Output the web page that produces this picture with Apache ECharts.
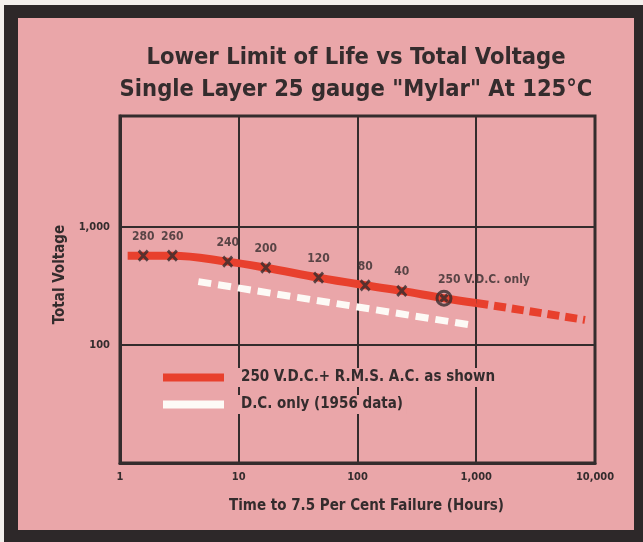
<!DOCTYPE html>
<html>
<head>
<meta charset="utf-8">
<script src="https://cdn.jsdelivr.net/npm/echarts@6/dist/echarts.min.js"></script>
<style>
html,body{margin:0;padding:0;background:#f3efec}
#chart{width:643px;height:542px}
</style>
</head>
<body>
<div id="chart"></div>
<script>
// red curve, 250 V.D.C. + R.M.S. A.C.
const acHours = [1.16, 1.57, 2.76, 8.07, 16.9, 47, 116, 236, 535, 1000]
const acVolts = [570, 570, 570, 508, 451, 372, 320, 287, 249, 227]
// red dashed extension
const extHours = [1000, 8240]
const extVolts = [227, 163]
// white dashed, D.C. only (1956 data)
const dcHours = [4.57, 886]
const dcVolts = [344, 148]
// test points (X marks) and their R.M.S. A.C. labels
const markHours = [1.57, 2.76, 8.07, 16.9, 47, 116, 236, 535]
const markVolts = [570, 570, 508, 451, 372, 320, 287, 249]
const markLabels = ['280', '260', '240', '200', '120', '80', '40', '250 V.D.C. only']

const font = "'Liberation Sans Narrow', 'DejaVu Sans Condensed', 'Liberation Sans', sans-serif"
const ink = '#342c2d'
const pink = '#eaa6a9'
const red = '#e8402d'

const pair = (xs, ys) => xs.map((x, i) => [x, ys[i]])

const chart = echarts.init(document.getElementById('chart'))

const option = {
    animation: false,
    graphic: [
        {type: 'rect', z: -20, shape: {x: 4, y: 5, width: 643, height: 542}, style: {fill: '#2d2829'}},
        {type: 'rect', z: -19, shape: {x: 18, y: 18, width: 616, height: 512}, style: {fill: pink}}
    ],
    title: {
        text: 'Lower Limit of Life vs Total Voltage\nSingle Layer 25 gauge "Mylar" At 125°C',
        left: 351,
        top: 37,
        textAlign: 'center',
        textStyle: {fontFamily: font, fontSize: 23.5, fontWeight: 'bold', color: ink, lineHeight: 32}
    },
    grid: {
        left: 120, right: 48, top: 116, bottom: 79,
        show: true, borderColor: ink, borderWidth: 3
    },
    legend: {
        orient: 'vertical',
        left: 163,
        top: 368,
        padding: 0,
        itemGap: 8,
        itemWidth: 61,
        itemHeight: 8,
        icon: 'rect',
        itemStyle: {borderWidth: 0},
        data: ['250 V.D.C.+ R.M.S. A.C. as shown', 'D.C. only (1956 data)'],
        textStyle: {
            fontFamily: font, fontSize: 15, fontWeight: 'bold', color: ink,
            backgroundColor: pink, padding: [2, 4, 2, 12]
        }
    },
    xAxis: {
        type: 'log',
        logBase: 10,
        min: 1,
        max: 10000,
        name: 'Time to 7.5 Per Cent Failure (Hours)',
        nameLocation: 'middle',
        nameGap: 36,
        nameTextStyle: {fontFamily: font, fontSize: 15, fontWeight: 'bold', color: ink, padding: [0, 0, 0, 18]},
        axisLine: {lineStyle: {color: ink, width: 3}},
        axisTick: {show: false},
        axisLabel: {
            fontFamily: font, fontSize: 11, fontWeight: 'bold', color: ink, margin: 9,
            formatter: v => Math.round(v).toLocaleString('en-US')
        },
        splitLine: {lineStyle: {color: ink, width: 2}}
    },
    yAxis: {
        type: 'log',
        logBase: 10,
        min: 10,
        max: 8700,
        name: 'Total Voltage',
        nameLocation: 'middle',
        nameGap: 50,
        nameTextStyle: {fontFamily: font, fontSize: 15, fontWeight: 'bold', color: ink, padding: [0, 0, 0, 30]},
        axisLine: {lineStyle: {color: ink, width: 3}},
        axisTick: {show: false},
        axisLabel: {
            fontFamily: font, fontSize: 11, fontWeight: 'bold', color: ink, margin: 10,
            formatter: v => {
                const r = Math.round(v)
                return (r === 100 || r === 1000) ? r.toLocaleString('en-US') : ''
            }
        },
        splitLine: {lineStyle: {color: ink, width: 2}}
    },
    series: [
        {
            name: 'D.C. only (1956 data)',
            type: 'line',
            data: pair(dcHours, dcVolts),
            symbol: 'none',
            itemStyle: {color: '#fdfaf6'},
            lineStyle: {color: '#fdfaf6', width: 7, type: [13, 7], cap: 'butt'}
        },
        {
            name: '250 V.D.C.+ R.M.S. A.C. as shown',
            type: 'line',
            data: pair(acHours, acVolts),
            smooth: 0.4,
            symbol: 'none',
            itemStyle: {color: red},
            lineStyle: {color: red, width: 8, cap: 'butt'}
        },
        {
            name: 'ext',
            type: 'line',
            data: pair(extHours, extVolts),
            symbol: 'none',
            itemStyle: {color: red},
            lineStyle: {color: red, width: 8, type: [12, 6], cap: 'butt'}
        },
        {
            name: 'dc point',
            type: 'scatter',
            data: [[markHours[7], markVolts[7]]],
            symbol: 'circle',
            symbolSize: 14,
            itemStyle: {color: 'rgba(0,0,0,0)', borderColor: ink, borderWidth: 3},
            z: 4
        },
        {
            name: 'marks',
            type: 'scatter',
            data: markHours.map((h, i) => {
                const d = {value: [h, markVolts[i]], label: {formatter: markLabels[i]}}
                if (i === markHours.length - 1) {
                    d.symbolSize = 7
                    d.label = {formatter: markLabels[i], align: 'left', offset: [-6, -1]}
                }
                return d
            }),
            symbol: 'path://M0,0L10,10M10,0L0,10',
            symbolSize: [9, 10],
            itemStyle: {color: 'rgba(0,0,0,0)', borderColor: ink, borderWidth: 3},
            label: {
                show: true,
                position: 'top',
                distance: 6,
                fontFamily: font,
                fontSize: 12,
                fontWeight: 'bold',
                color: ink
            },
            z: 5
        }
    ]
}

chart.setOption(option)
</script>
</body>
</html>
